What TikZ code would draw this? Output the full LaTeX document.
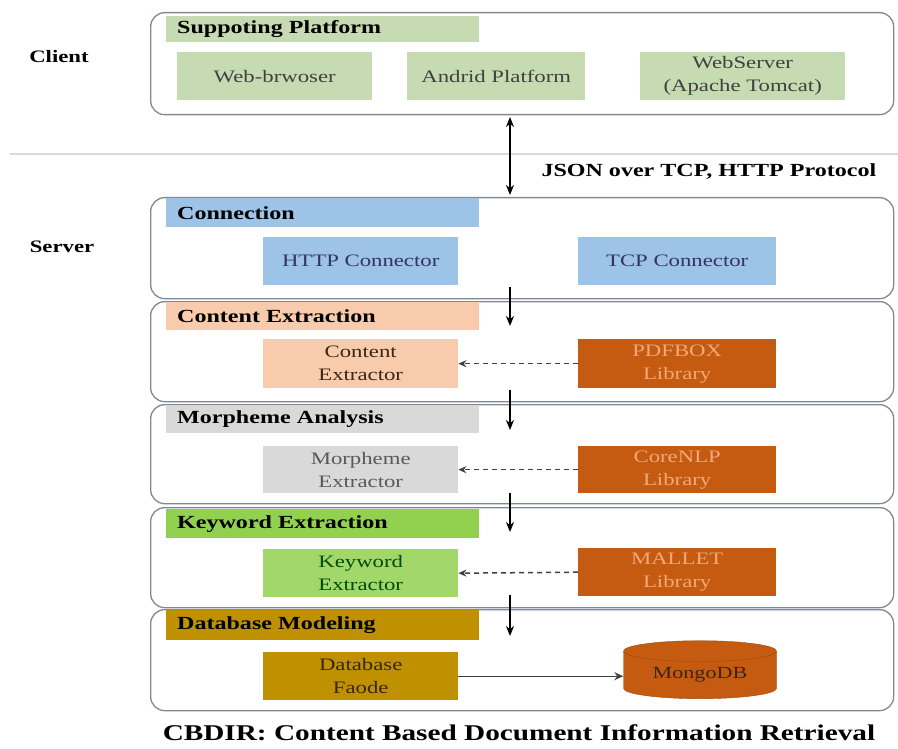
\documentclass[tikz,border=0pt]{standalone}
\usepackage{fontspec}
\setmainfont[FakeStretch=1.3]{Liberation Serif}
\usetikzlibrary{shapes.geometric,arrows.meta}
\definecolor{cligreen}{HTML}{C6DBB2}
\definecolor{connblue}{HTML}{9DC3E6}
\definecolor{salmon}{HTML}{F8CBAD}
\definecolor{darkor}{HTML}{C55A11}
\definecolor{libtxt}{HTML}{F4A878}
\definecolor{grayh}{HTML}{D9D9D9}
\definecolor{kwgreen}{HTML}{92D050}
\definecolor{gold}{HTML}{BF9000}
\definecolor{frame}{HTML}{7F8894}
\tikzset{
  cont/.style={draw=frame, line width=1.3pt, rounded corners=14pt, anchor=north west, minimum width=743pt, inner sep=0},
  hdr/.style={anchor=north west, minimum width=313pt, inner sep=0, text width=291pt, align=left, font=\bfseries\fontsize{18.5}{20}\selectfont},
  inbox/.style={anchor=north west, minimum width=195pt, minimum height=48pt, inner sep=0, align=center, font=\fontsize{17.5}{23}\selectfont},
  lib/.style={inbox, fill=darkor, text=libtxt},
  flow/.style={-{Stealth[length=10pt,width=8pt]}, line width=1.8pt, black},
  uses/.style={-{Stealth[length=8pt,width=7pt]}, dash pattern=on 5pt off 4pt, line width=1.5pt, black!75},
  side/.style={font=\bfseries\fontsize{17.5}{19}\selectfont},
}
\begin{document}
\begin{tikzpicture}[x=1pt,y=-1pt]
\useasboundingbox (0,0) rectangle (898,749);
% separator
\draw[black!15, line width=1.2pt] (10,154) -- (898,154);
% side labels
\node[side] (client) at (59,57) {Client};
\node[side] (server) at (62,247) {Server};
% Client
\node[cont, minimum height=102pt] (cbox) at (150,12) {};
\node[hdr, fill=cligreen, minimum height=26pt] (sp) at (166,16) {Suppoting Platform};
\node[inbox, fill=cligreen, text=black!75] (wb) at (177,52) {Web-brwoser};
\node[inbox, fill=cligreen, text=black!75, minimum width=178pt] (ap) at (407,52) {Andrid Platform};
\node[inbox, fill=cligreen, text=black!75, minimum width=205pt] (ws) at (640,52) {WebServer\\(Apache Tomcat)};
% protocol
\coordinate (p1) at (510,117);
\coordinate (p2) at (510,195);
\draw[{Stealth[length=10pt,width=8pt]}-{Stealth[length=10pt,width=8pt]}, line width=1.8pt] (p1) -- (p2);
\node[font=\bfseries\fontsize{18.5}{20}\selectfont, anchor=west] (json) at (538,172) {JSON over TCP, HTTP Protocol};
% Connection
\node[cont, minimum height=101pt] (connbox) at (150,197) {};
\node[hdr, fill=connblue, minimum height=29pt] (conn) at (166,198) {Connection};
\node[inbox, fill=connblue, text=black!65!blue!60!gray] (http) at (263,237) {HTTP Connector};
\node[inbox, fill=connblue, text=black!65!blue!60!gray, minimum width=198pt] (tcp) at (578,237) {TCP Connector};
% Content Extraction
\node[cont, minimum height=100pt] (cebox) at (150,301) {};
\node[hdr, fill=salmon, minimum height=28pt] (ce) at (166,302) {Content Extraction};
\node[inbox, fill=salmon, text=black!70!brown, minimum height=49pt] (cex) at (263,339) {Content\\Extractor};
\node[lib, minimum width=198pt, minimum height=49pt] (pdf) at (578,339) {PDFBOX\\Library};
\draw[uses] (pdf.west) -- (cex.east);
% Morpheme
\node[cont, minimum height=99pt] (mabox) at (150,404) {};
\node[hdr, fill=grayh, minimum height=28pt] (ma) at (166,405) {Morpheme Analysis};
\node[inbox, fill=grayh, text=black!65, minimum height=47pt] (mex) at (263,446) {Morpheme\\Extractor};
\node[lib, minimum width=198pt, minimum height=47pt] (nlp) at (578,446) {CoreNLP\\Library};
\draw[uses] (nlp.west) -- (mex.east);
% Keyword
\node[cont, minimum height=100pt] (kebox) at (150,507) {};
\node[hdr, fill=kwgreen, minimum height=29pt] (ke) at (166,509) {Keyword Extraction};
\node[inbox, fill=kwgreen!85!white, text=black!70!green, minimum height=48pt] (kex) at (263,549) {Keyword\\Extractor};
\node[lib, minimum width=198pt, minimum height=48pt] (mal) at (578,548) {MALLET\\Library};
\draw[uses] (mal.west) -- (kex.east);
% Database
\node[cont, minimum height=101pt] (dbbox) at (150,609) {};
\node[hdr, fill=gold, minimum height=30pt] (dm) at (166,610) {Database Modeling};
\node[inbox, fill=gold, text=black!70!brown, minimum height=48pt] (df) at (263,652) {Database\\Faode};
\node[cylinder, shape border rotate=90, aspect=0.22, draw=darkor!80!black, fill=darkor, minimum width=153pt, minimum height=58pt, inner sep=0, font=\fontsize{17}{19}\selectfont, text=black!70!brown] (mdb) at (700,675) {MongoDB};
\draw[-{Stealth[length=9pt,width=8pt]}, line width=1.3pt, black!75] (df.east) -- (df.east -| mdb.west);
% flow arrows
\coordinate (a1) at (510,287); \coordinate (b1) at (510,326);
\coordinate (a2) at (510,390); \coordinate (b2) at (510,430);
\coordinate (a3) at (510,493); \coordinate (b3) at (510,532);
\coordinate (a4) at (510,595); \coordinate (b4) at (510,636);
\draw[flow] (a1) -- (b1);
\draw[flow] (a2) -- (b2);
\draw[flow] (a3) -- (b3);
\draw[flow] (a4) -- (b4);
% caption
\node[font=\bfseries\fontsize{22.5}{24}\selectfont] (cap) at (519,733) {CBDIR: Content Based Document Information Retrieval};
\end{tikzpicture}
\end{document}
